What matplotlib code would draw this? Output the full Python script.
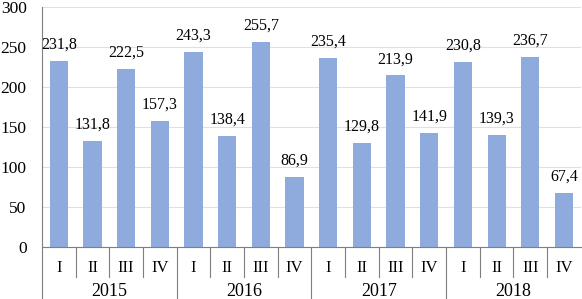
import matplotlib.pyplot as plt

# quarterly values, 2015-2018
years = ["2015", "2016", "2017", "2018"]
quarters = ["I", "II", "III", "IV"]
values = [231.8, 131.8, 222.5, 157.3,
          243.3, 138.4, 255.7, 86.9,
          235.4, 129.8, 213.9, 141.9,
          230.8, 139.3, 236.7, 67.4]

plt.rcParams['font.family'] = ['Liberation Serif', 'DejaVu Serif']

fig = plt.figure(figsize=(5.82, 2.99), dpi=100)
ax = fig.add_axes([0.072, 0.175, 0.926, 0.803])

x = list(range(len(values)))
ax.bar(x, values, width=0.54, color='#8FAADC', zorder=2)

# value labels with comma decimals
for xi, v in zip(x, values):
    ax.annotate(f"{v:.1f}".replace(".", ","), (xi, v), xytext=(0, 6),
                textcoords='offset points', ha='center', va='bottom', fontsize=11.5)

ax.set_xlim(-0.5, 15.5)
ax.set_ylim(0, 300)
ax.set_yticks(range(0, 301, 50))
ax.tick_params(axis='y', length=0, labelsize=12.5, pad=11)
ax.set_xticks([])
ax.grid(axis='y', color='#E0E0E0', linewidth=0.8, zorder=0)

for s in ['top', 'right', 'left']:
    ax.spines[s].set_visible(False)
ax.spines['bottom'].set_color('#7F7F7F')

# two-level category axis
trans = ax.get_xaxis_transform()
for i in range(len(values)):
    ax.text(i, -0.089, quarters[i % 4], transform=trans, ha='center', va='center', fontsize=12)
for b in range(16):
    pos = b - 0.5
    bottom = -0.25 if b % 4 == 0 else -0.125
    ax.plot([pos, pos], [1.0 if b == 0 else 0, bottom], transform=trans,
            color='#7F7F7F', linewidth=0.8, clip_on=False)
for j, yr in enumerate(years):
    ax.text(j * 4 + 1.5, -0.185, yr, transform=trans, ha='center', va='center', fontsize=13)

fig.savefig("out.png", dpi=100)
